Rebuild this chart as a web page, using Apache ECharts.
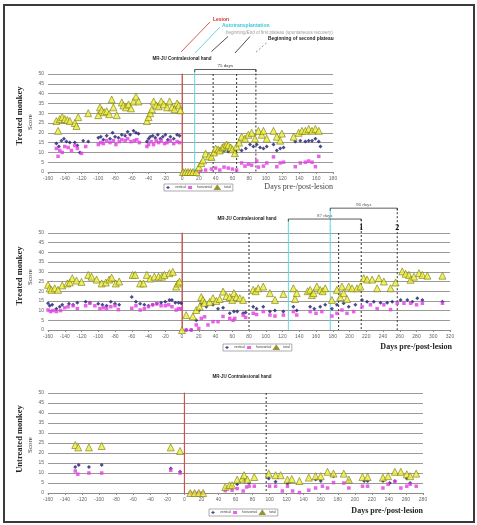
<!DOCTYPE html>
<html>
<head>
<meta charset="utf-8">
<script src="https://cdn.jsdelivr.net/npm/echarts@6/dist/echarts.min.js"></script>
<style>
html, body { margin: 0; padding: 0; background: #fff; }
#main { width: 477px; height: 525px; }
</style>
</head>
<body>
<div id="main"></div>
<script>
// legend names
let names = ["vertical", "horizontal", "total"];

// ---- panel 1 : treated monkey, x -160..180 ----
let p1Vertical = [
    [-150,14.5],[-147,13],[-144,16],[-141,17],[-138,15.5],[-134,15],[-128,15],[-125,13.5],[-122,10],[-118,16],[-112,15.5],
    [-100,17.5],[-97,18],[-94,16.5],[-90,18.5],[-86,17],[-83,20],[-80,18],[-76,17.5],[-72,19],[-68,18.5],[-65,20.5],[-62,19],[-58,21],[-55,20],[-52,19.5],
    [-42,15.5],[-40,17],[-38,18],[-35,18.5],[-32,17.5],[-29,19],[-26,17],[-23,18],[-20,19],[-17,16.5],[-14,18],[-10,17],[-6,19],[-3,18.5],
    [1,0],[4,0],[7,0],[10,0],[13,0],[17,0],
    [45,11.4],[50,11],[55,10.5],[60,11],[64,10],[71,11],[76,12],[81,14],[85,13],[89,14],[93,12.5],[97,12],[101,13],[109,14],[113,11],[117,12],[121,12.5],
    [135,15.5],[141,16],[147,15.5],[151,16],[155,16],[159,17],[163,15.5],[165,13]
];
let p1Horizontal = [
    [-150,12],[-148,8],[-146,11],[-143,10],[-140,13],[-136,12.5],[-132,11],[-128,13.5],[-125,12],[-120,9.5],[-115,13],
    [-100,14],[-97,15],[-94,14.5],[-90,16],[-86,15],[-82,16],[-79,14],[-75,15.5],[-72,16.5],[-68,16],[-65,17],[-61,15.5],[-57,16],[-54,16.5],[-51,15],
    [-42,13],[-40,14],[-37,15.5],[-34,14],[-31,16],[-28,15],[-25,16],[-21,14.5],[-18,15],[-14,16],[-10,14.5],[-6,15.5],[-3,15],
    [1,0],[4,0],[7,0],[10,0],[13,0],[17,0],[22,0.5],[28,1],[35,1.5],[40,2],[45,1],[50,2.5],[55,2],[60,1.5],[65,1],
    [71,4.6],[75,3],[79,4],[83,3.5],[89,5.6],[91,2.5],[97,3],[101,4.6],[109,7.7],[113,2.7],[117,4.6],[121,5],
    [135,2.7],[141,4.6],[147,5],[151,5.6],[155,5],[159,2.7],[163,8]
];
let p1Total = [
    [-150,26],[-148,21],[-146,27],[-143,28],[-140,27],[-137,26.5],[-134,26],[-128,25],[-126,23.5],[-124,28],[-112,30],
    [-100,29],[-98,33],[-96,31.5],[-93,30.5],[-90,31],[-87,29.5],[-84,37],[-82,33],[-78,29],
    [-72,35.5],[-70,34],[-67,33],[-64,34.5],[-61,32.5],[-58,36],[-55,38.5],[-52,36],
    [-42,26],[-40,28],[-38,30],[-36,32],[-34,36],[-31,34],[-28,33.5],[-25,36],[-22,34.5],[-18,33],[-15,36],[-12,33],[-9,32],[-6,35],[-4,34],[-2,31.5],
    [1,0],[4,0],[7,0],[10,0],[13,0],[17,0],[20,2.5],[23,4.5],[25,6],[28,9.4],[32,8],[35,7.7],[38,10],[40,12],[43,11.5],[45,11],[48,12.5],[50,13],
    [53,14],[55,13.6],[58,12.5],[60,11.6],[63,9.6],[65,13],[68,15],[71,18],[75,17],[79,19],[83,20],[87,17],[91,21],[95,19],[97,21],[101,17],
    [109,21],[113,18],[117,16],[119,19.6],[133,18],[139,20],[143,21],[147,21],[151,22],[155,21],[159,22],[163,21]
];

// ---- panel 2 : treated monkey, x -160..320 ----
let p2Vertical = [
    [-160,13.8],[-158,12.5],[-155,13],[-150,11],[-146,12],[-143,13],[-135,13.5],[-130,13],[-125,14],[-115,14.6],[-110,14],[-100,13.5],[-95,13],
    [-90,12.5],[-85,14.5],[-80,13.5],[-75,13],[-60,17],[-55,14.5],[-50,13.5],[-45,13],[-40,12.5],[-35,13],[-30,13.5],[-25,14],[-20,14.5],
    [-15,15.5],[-12,15.5],[-8,14],[-4,14],[-1,13.8],
    [5,0],[11,0],[17,5],[21,10.3],[23,13.8],[29,12],[37,13],[43,11],[49,11.5],[57,8.6],[62,9.5],[66,9.5],[73,8.6],[76,9],[85,12],[89,11],[97,12],
    [105,9.5],[111,10],[121,9.5],[133,12],[137,10],[153,12],[158,11],[165,12],[171,13],[179,11],[185,13],[193,13.8],[199,12],[207,13],[215,15.5],
    [221,14.6],[229,14.6],[237,14],[245,14],[251,14.6],[261,15.5],[269,15.5],[275,14.6],[281,16.4],[287,15.5],[311,14.6]
];
let p2Horizontal = [
    [-160,10.3],[-157,9.5],[-154,10],[-150,9.5],[-145,10],[-140,11.5],[-136,12],[-130,12.5],[-125,11],[-115,12.5],[-110,13.8],[-104,12.5],[-98,11],
    [-94,11.5],[-90,11],[-85,12],[-80,12.5],[-76,10.5],[-60,11.2],[-55,12.5],[-50,10.3],[-45,11],[-40,12],[-35,13],[-30,13.5],[-25,12.5],[-20,12.5],
    [-16,13],[-12,12],[-7,10.3],[-4,11],[-1,11],
    [5,0],[11,0],[17,2.6],[20,0.8],[23,6],[27,6.8],[31,2.6],[37,4.3],[43,4.3],[49,7],[57,6],[61,5],[63,6],[73,7.7],[76,6.5],[85,8.6],[89,8],[97,9.5],
    [105,7.7],[111,7.2],[121,7.7],[133,9.5],[137,7.7],[153,9.5],[160,8.6],[167,9.5],[179,7.2],[185,8.6],[191,10.3],[197,8.6],[205,9.5],[215,12],
    [225,13],[233,11],[241,13],[249,10.5],[257,13.8],[265,13.8],[273,13.8],[280,13],[287,13.8],[311,13.8]
];
let p2Total = [
    [-160,23.3],[-158,21.5],[-156,20.7],[-152,21.5],[-148,20.7],[-143,23],[-137,24],[-134,24.5],[-131,26.7],[-126,25.5],[-120,24.8],[-112,28.4],
    [-108,27.5],[-102,26],[-96,24],[-91,24.5],[-87,26],[-84,27],[-79,24],[-75,25],[-59,28.4],[-56,28.4],[-50,24],[-46,24],[-42,28.4],[-38,26.5],
    [-33,27.5],[-28,27.5],[-24,27.5],[-21,28.4],[-15,29.3],[-11,30],[-7,22.4],[-5,24],[-3,25],
    [0,0],[5,7.7],[13,7],[17,10.3],[21,12],[23,17],[25,15.5],[27,14],[33,14.5],[37,16.4],[41,15],[45,16],[49,19.8],[53,17.5],[57,17],[60,15.5],
    [62,19],[65,17],[69,16.4],[73,15.5],[85,20.7],[88,20],[91,21.5],[97,22.4],[105,19],[111,15.5],[121,18.6],[133,21.5],[135,16],[137,19],
    [150,20],[153,20.7],[155,18],[157,19],[161,22.4],[165,20.7],[168,20],[171,21.5],[179,15.5],[185,20.7],[189,17],[191,22.4],[193,19],[197,16],
    [199,22.4],[203,21.5],[209,21.5],[213,22.4],[217,26.7],[221,26],[227,26],[233,21.5],[235,26.7],[241,25],[249,21.5],[255,24.5],[263,30.2],
    [267,29],[271,28.4],[273,25.9],[277,27.5],[283,29.3],[287,28.4],[293,28],[311,28]
];

// ---- panel 3 : untreated monkey, x -160..280 ----
let p3Vertical = [
    [-128,13],[-124,14],[-112,13],[-97,14],[-16,12.2],[-5,10.6],
    [7,0],[12,0],[17,0],[22,0],[48,2],[56,3],
    [62,4.4],[70,6.4],[76,5],[99,7.2],[107,5.6],[121,4.7],[154,6.7],[160,6],[175,8.4],[193,6.4],[211,6],[215,6],[233,6],[241,5],[247,6],[261,7.2],[265,5]
];
let p3Horizontal = [
    [-128,11],[-125,9.4],[-112,10],[-97,10],[-16,11.4],[-5,10],
    [7,0],[12,0],[17,0],[22,0],[48,1.2],[56,1.4],
    [62,2.2],[69,1],[73,3],[76,3.4],[82,3.4],[100,3.4],[107,3.4],[115,1],[121,3.4],[127,1],[135,0.2],[146,1.4],[154,2.5],[162,3.4],[168,2.5],
    [175,5.2],[187,5],[193,2.5],[209,3.4],[215,3.4],[233,2.5],[239,4.4],[247,5.6],[254,2.5],[261,3.4],[265,4.4],[272,3.4]
];
let p3Total = [
    [-128,24],[-124.5,22.8],[-112,22.8],[-97,23.5],[-16,22.8],[-5,21],
    [7,0],[12,0],[17,0],[22,0],[48,3],[53,3.9],
    [56,3.9],[62,6.7],[68,7.2],[70,8.9],[74,6.7],[82,8],[99,9.7],[107,8.9],[113,8.9],[121,6.7],[126,7],[135,6],[146,7.7],[154,8.4],[160,8.4],
    [168,10.6],[175,9.7],[187,9.7],[193,6.7],[209,8],[215,8],[233,7.7],[239,8.4],[247,10.6],[254,10.6],[261,9.4],[265,8.4],[272,9.7]
];

// event days (x values) per panel
let lesionDay = 0;
let p1Graft = [15];
let p1Plateau = [37, 65, 88];
let p2Graft = [127, 177];
let p2Plateau = [80, 187];
let p2Numbered = [214, 257];
let p3Plateau = [96];

let xRanges = [[-160, 180], [-160, 320], [-160, 280]];

let dom = document.getElementById("main");
let chart = echarts.init(dom, null, { renderer: "canvas" });

let grids = [
    { left: 48, top: 74, width: 285, height: 98 },
    { left: 48, top: 233, width: 402, height: 97 },
    { left: 48, top: 393, width: 375, height: 100 }
];

function makeXAxis(i) {
    return {
        type: "value", gridIndex: i, min: xRanges[i][0], max: xRanges[i][1], interval: 20,
        axisLine: { show: true, onZero: false, lineStyle: { color: "#8a8a8a", width: 1 } },
        axisTick: { show: true, length: 2, lineStyle: { color: "#8a8a8a" } },
        axisLabel: { fontSize: 5, color: "#666", margin: 4, fontFamily: "Liberation Sans" },
        splitLine: { show: false }
    };
}
function makeYAxis(i) {
    return {
        type: "value", gridIndex: i, min: 0, max: 50, interval: 5,
        axisLine: { show: true, lineStyle: { color: "#8a8a8a", width: 1 } },
        axisTick: { show: true, length: 2, lineStyle: { color: "#8a8a8a" } },
        axisLabel: { fontSize: 5, color: "#666", margin: 4, fontFamily: "Liberation Sans" },
        splitLine: { show: true, lineStyle: { color: "#9a9a9a", width: 1 } }
    };
}

function scatterSet(i, v, h, t) {
    return [
        { name: names[0], type: "scatter", xAxisIndex: i, yAxisIndex: i, data: v, symbol: "diamond", symbolSize: 4,
          itemStyle: { color: "#1c1c70" }, z: 3 },
        { name: names[1], type: "scatter", xAxisIndex: i, yAxisIndex: i, data: h, symbol: "rect", symbolSize: 3.5,
          itemStyle: { color: "#e23ce2" }, z: 3 },
        { name: names[2], type: "scatter", xAxisIndex: i, yAxisIndex: i, data: t, symbol: "triangle", symbolSize: 7,
          itemStyle: { color: "#ecec3c", borderColor: "#7c7c14", borderWidth: 0.8 }, z: 4 }
    ];
}

function vline(i, day, top, color, dashed) {
    return {
        type: "line", xAxisIndex: i, yAxisIndex: i, data: [[day, top], [day, 0]],
        symbol: "none", silent: true, clip: false, z: 1, animation: false,
        lineStyle: { color: color, width: 1, type: dashed ? [2, 2] : "solid" }
    };
}
function bracket(i, x0, x1, y) {
    return {
        type: "line", xAxisIndex: i, yAxisIndex: i, data: [[x0, y - 1.3], [x0, y], [x1, y], [x1, y - 1.3]],
        symbol: "none", silent: true, clip: false, z: 1, animation: false,
        lineStyle: { color: "#333", width: 0.8 }
    };
}

let series = [];
// panel 1 markers
series.push(vline(0, lesionDay, 50, "#e0463c", false));
p1Graft.forEach(d => series.push(vline(0, d, 52.3, "#5fd8e4", false)));
p1Plateau.forEach((d, k) => series.push(vline(0, d, k === 2 ? 52.3 : 50, "#333", true)));
series.push(bracket(0, p1Graft[0], p1Plateau[2], 52.3));
// panel 2 markers
series.push(vline(1, lesionDay, 50, "#e0463c", false));
series.push(vline(1, p2Graft[0], 57.2, "#5fd8e4", false));
series.push(vline(1, p2Graft[1], 62.8, "#5fd8e4", false));
p2Plateau.forEach(d => series.push(vline(1, d, 50, "#333", true)));
series.push(vline(1, p2Numbered[0], 57.2, "#333", true));
series.push(vline(1, p2Numbered[1], 62.8, "#333", true));
series.push(bracket(1, p2Graft[0], p2Numbered[0], 57.2));
series.push(bracket(1, p2Graft[1], p2Numbered[1], 62.8));
// panel 3 markers
series.push(vline(2, lesionDay, 50, "#e0463c", false));
p3Plateau.forEach(d => series.push(vline(2, d, 50, "#333", true)));

series = series.concat(scatterSet(0, p1Vertical, p1Horizontal, p1Total));
series = series.concat(scatterSet(1, p2Vertical, p2Horizontal, p2Total));
series = series.concat(scatterSet(2, p3Vertical, p3Horizontal, p3Total));

function legendAt(left, top) {
    return {
        data: names, left: left, top: top, orient: "horizontal",
        itemWidth: 4, itemHeight: 3, itemGap: 2, padding: [1, 2],
        borderColor: "#8a8a8a", borderWidth: 0.7, backgroundColor: "#fff",
        selectedMode: false,
        textStyle: { fontSize: 3.5, color: "#444", fontFamily: "Liberation Sans", padding: [0, 0, 0, 0] }
    };
}

function txt(x, y, s, size, color, weight, family, align, rot) {
    return {
        type: "text", x: x, y: y, rotation: rot || 0, silent: true, z: 10,
        style: {
            text: s, fontSize: size, fill: color, fontWeight: weight || "normal",
            fontFamily: family || "Liberation Sans", align: align || "left", verticalAlign: "middle"
        }
    };
}
function seg(x1, y1, x2, y2, color, dashed) {
    return {
        type: "line", silent: true, z: 10,
        shape: { x1: x1, y1: y1, x2: x2, y2: y2 },
        style: { stroke: color, lineWidth: 0.8, lineDash: dashed ? [2, 2] : null }
    };
}

let serif = "Liberation Serif";
let graphics = [
    { type: "rect", shape: { x: 4, y: 5, width: 470, height: 517 }, style: { fill: null, stroke: "#3a3a3a", lineWidth: 2 }, silent: true },
    // top annotation key
    txt(213, 20, "Lesion", 5, "#d03030", "bold"),
    txt(222, 25.5, "Autotransplantation", 5, "#3cc8d8", "bold"),
    txt(226, 32.5, "beginning/End of first plateau (spontaneous recovery)", 4.5, "#a0a0a0"),
    txt(268, 39, "Beginning of second plateau", 4.8, "#222", "bold"),
    seg(210, 22, 181, 52, "#d03030"),
    seg(220, 27, 195, 53, "#3cc8d8"),
    seg(228, 36.5, 211.5, 51.5, "#222"),
    seg(250, 36.5, 235, 53, "#222"),
    seg(266.5, 43, 255, 53, "#777", true),
    // panel titles
    txt(182, 58.5, "MR-JU Contralesional hand", 4.5, "#222", "bold", null, "center"),
    txt(247, 218.5, "MR-JU Contralesional hand", 4.5, "#222", "bold", null, "center"),
    txt(242, 377, "MR-JU Contralesional hand", 4.5, "#222", "bold", null, "center"),
    // axis names
    txt(20, 116, "Treated monkey", 8.5, "#222", "bold", serif, "center", Math.PI / 2),
    txt(30, 122, "Score", 7, "#333", "normal", serif, "center", Math.PI / 2),
    txt(20, 276, "Treated monkey", 8.5, "#222", "bold", serif, "center", Math.PI / 2),
    txt(30, 277, "Score", 7, "#333", "normal", serif, "center", Math.PI / 2),
    txt(20, 439, "Untreated monkey", 8.5, "#222", "bold", serif, "center", Math.PI / 2),
    txt(30, 445, "Score", 7, "#333", "normal", serif, "center", Math.PI / 2),
    txt(333, 187, "Days pre-/post-lesion", 8, "#444", "normal", serif, "right"),
    txt(452, 347, "Days pre-/post-lesion", 8, "#222", "bold", serif, "right"),
    txt(423, 511, "Days pre-/post-lesion", 8, "#222", "bold", serif, "right")
];

chart.setOption({
    animation: false,
    backgroundColor: "#fff",
    grid: grids,
    xAxis: [makeXAxis(0), makeXAxis(1), makeXAxis(2)],
    yAxis: [makeYAxis(0), makeYAxis(1), makeYAxis(2)],
    legend: [legendAt(164, 184), legendAt(223, 344), legendAt(209, 509)],
    series: series,
    graphic: graphics
});

// labels that sit on the data coordinate system
function at(i, x, y) { return chart.convertToPixel({ gridIndex: i }, [x, y]); }
let extra = [];
let a = at(0, (p1Graft[0] + p1Plateau[2]) / 2, 52.3);
extra.push(txt(a[0], a[1] - 3.5, "75 days", 5, "#222", "normal", serif, "center"));
a = at(1, (p2Graft[0] + p2Numbered[0]) / 2, 57.2);
extra.push(txt(a[0], a[1] - 3.5, "87 days", 5, "#555", "normal", serif, "center"));
a = at(1, (p2Graft[1] + p2Numbered[1]) / 2, 62.8);
extra.push(txt(a[0], a[1] - 3.5, "96 days", 5, "#555", "normal", serif, "center"));
a = at(1, p2Numbered[0], 52.5);
extra.push(txt(a[0], a[1], "1", 8, "#111", "bold", serif, "center"));
a = at(1, p2Numbered[1], 52.5);
extra.push(txt(a[0], a[1], "2", 8, "#111", "bold", serif, "center"));
a = at(1, p2Graft[0], 52.5);
extra.push(txt(a[0], a[1], "1", 6, "#8fe0ea", "normal", serif, "center"));
a = at(1, p2Graft[1], 52.5);
extra.push(txt(a[0], a[1], "2", 6, "#8fe0ea", "normal", serif, "center"));

chart.setOption({ graphic: graphics.concat(extra) });
</script>
</body>
</html>
